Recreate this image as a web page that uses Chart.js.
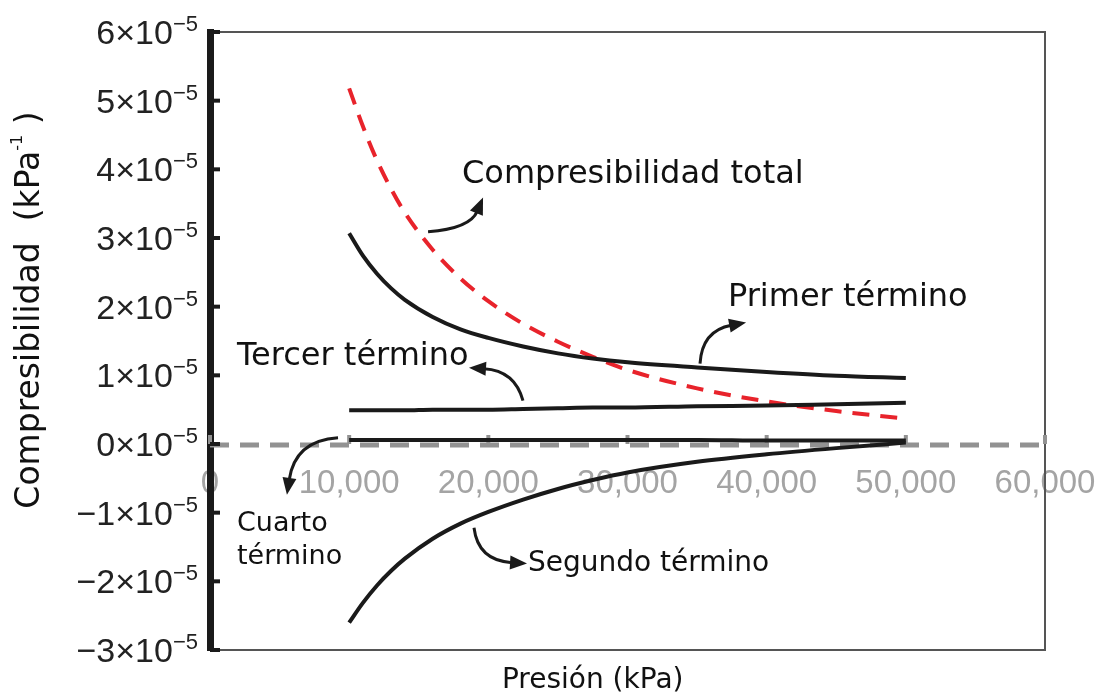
<!DOCTYPE html>
<html lang="es">
<head>
<meta charset="utf-8">
<title>Compresibilidad vs presión</title>
<script src="https://cdn.jsdelivr.net/npm/chart.js@4.4.1/dist/chart.umd.min.js"></script>
<style>
  html, body { margin: 0; padding: 0; background: #fff; }
  #wrap { width: 1104px; height: 700px; position: relative; }
</style>
</head>
<body>
<div id="wrap"><canvas id="grafico"></canvas></div>
<script>
// presiones (kPa) donde se leyeron las curvas
const presion = [10000, 11000, 12000, 13000, 14000, 16000, 18000, 20000, 22500, 25000, 27500, 30000, 35000, 40000, 45000, 50000];
// valores en unidades de 1e-5 kPa^-1
const total   = [5.18, 4.62, 4.13, 3.72, 3.37, 2.83, 2.41, 2.08, 1.75, 1.49, 1.27, 1.08, 0.81, 0.62, 0.48, 0.37];
const primer  = [3.07, 2.74, 2.48, 2.27, 2.10, 1.85, 1.67, 1.545, 1.42, 1.32, 1.245, 1.19, 1.115, 1.05, 0.995, 0.96];
const segundo = [-2.60, -2.31, -2.06, -1.85, -1.67, -1.38, -1.16, -0.99, -0.81, -0.655, -0.525, -0.415, -0.26, -0.15, -0.06, 0.02];
const tercer  = [0.49, 0.49, 0.49, 0.49, 0.49, 0.50, 0.50, 0.50, 0.51, 0.52, 0.53, 0.53, 0.55, 0.56, 0.58, 0.60];
const cuarto  = [0.06, 0.06, 0.06, 0.06, 0.06, 0.06, 0.06, 0.06, 0.06, 0.06, 0.06, 0.06, 0.06, 0.05, 0.05, 0.05];

const xMin = 0, xMax = 60000, xPaso = 10000;
const yMin = -3, yMax = 6, yPaso = 1;

// textos de las curvas (anclados en coordenadas de datos)
const etiquetas = [
  { lineas: ['Compresibilidad total'], x: 18110, y: 3.92, size: 32 },
  { lineas: ['Primer término'], x: 37220, y: 2.13, size: 32 },
  { lineas: ['Tercer término'], x: 1940, y: 1.27, size: 32 },
  { lineas: ['Cuarto', 'término'], x: 1940, y: -1.16, size: 27 },
  { lineas: ['Segundo término'], x: 22850, y: -1.74, size: 28 }
];
// flechas curvas: desde, control, hasta
const flechas = [
  [[15670, 3.09], [18680, 3.14], [19620, 3.59]],
  [[35210, 1.17], [35350, 1.65], [38520, 1.77]],
  [[22490, 0.63], [21920, 1.07], [18610, 1.11]],
  [[9200, 0.09], [6110, 0.05], [5530, -0.74]],
  [[18970, -1.22], [19260, -1.70], [22780, -1.74]]
];

function serie(vals) {
  return presion.map((p, i) => ({ x: p, y: vals[i] }));
}

const negro = '#1a1a1a';

const decorado = {
  id: 'decorado',
  beforeDatasetsDraw(chart) {
    const { ctx, chartArea: a, scales: { x, y } } = chart;
    ctx.save();
    // marco fino
    ctx.strokeStyle = '#555';
    ctx.lineWidth = 2;
    ctx.beginPath();
    ctx.moveTo(a.left, a.top);
    ctx.lineTo(a.right, a.top);
    ctx.lineTo(a.right, a.bottom);
    ctx.lineTo(a.left, a.bottom);
    ctx.stroke();
    // linea de cero discontinua y sus marquitas
    const y0 = y.getPixelForValue(0);
    ctx.strokeStyle = '#929292';
    ctx.lineWidth = 5;
    ctx.setLineDash([19, 11]);
    ctx.beginPath();
    ctx.moveTo(a.left, y0 + 1);
    ctx.lineTo(a.right, y0 + 1);
    ctx.stroke();
    ctx.setLineDash([]);
    ctx.lineWidth = 4;
    x.ticks.forEach(t => {
      const px = x.getPixelForValue(t.value);
      ctx.beginPath();
      ctx.moveTo(px, y0);
      ctx.lineTo(px, y0 - 9);
      ctx.stroke();
    });
    ctx.restore();
  },
  afterDraw(chart) {
    const { ctx, chartArea: a, scales: { x, y } } = chart;
    ctx.save();
    // marcas y etiquetas del eje y
    ctx.fillStyle = '#222';
    ctx.strokeStyle = negro;
    ctx.lineWidth = 4;
    const fBase = '34px "Liberation Sans", Arial, sans-serif';
    const fSup = '22px "Liberation Sans", Arial, sans-serif';
    y.ticks.forEach(t => {
      const py = y.getPixelForValue(t.value);
      ctx.beginPath();
      ctx.moveTo(a.left, py);
      ctx.lineTo(a.left + 10, py);
      ctx.stroke();
      const base = (t.value < 0 ? '\u2212' : '') + Math.abs(t.value) + '\u00d710';
      const sup = '\u22125';
      ctx.font = fSup;
      const wSup = ctx.measureText(sup).width;
      const derecha = a.left - 12;
      ctx.textAlign = 'right';
      ctx.textBaseline = 'alphabetic';
      ctx.fillText(sup, derecha, py - 1);
      ctx.font = fBase;
      ctx.fillText(base, derecha - wSup, py + 12);
    });

    // titulo del eje y (girado)
    ctx.save();
    ctx.translate(30, (a.top + a.bottom) / 2 - 31);
    ctx.rotate(-Math.PI / 2);
    ctx.textAlign = 'left';
    ctx.textBaseline = 'middle';
    ctx.fillStyle = '#111';
    const fTit = '33px "DejaVu Sans", sans-serif';
    const fTitSup = '16px "DejaVu Sans", sans-serif';
    const t1 = 'Compresibilidad  (kPa', t2 = '-1', t3 = ' )';
    ctx.font = fTit;
    const w1 = ctx.measureText(t1).width, w3 = ctx.measureText(t3).width;
    ctx.font = fTitSup;
    const w2 = ctx.measureText(t2).width;
    let cx = -(w1 + w2 + w3) / 2;
    ctx.font = fTit;
    ctx.fillText(t1, cx, 0);
    cx += w1;
    ctx.font = fTitSup;
    ctx.fillText(t2, cx, -12);
    cx += w2;
    ctx.font = fTit;
    ctx.fillText(t3, cx, 0);
    ctx.restore();

    // titulo del eje x
    ctx.font = '28px "DejaVu Sans", sans-serif';
    ctx.fillStyle = '#111';
    ctx.textAlign = 'center';
    ctx.textBaseline = 'middle';
    ctx.fillText('Presión (kPa)', x.getPixelForValue(27500), a.bottom + 31);

    // etiquetas de curvas
    ctx.textAlign = 'left';
    etiquetas.forEach(e => {
      ctx.font = e.size + 'px "DejaVu Sans", sans-serif';
      const px = x.getPixelForValue(e.x);
      const py = y.getPixelForValue(e.y);
      e.lineas.forEach((l, i) => ctx.fillText(l, px, py + i * e.size * 1.25));
    });

    // flechas
    ctx.strokeStyle = negro;
    ctx.fillStyle = negro;
    ctx.lineWidth = 3;
    flechas.forEach(f => {
      const [p0, p1, p2] = f.map(p => [x.getPixelForValue(p[0]), y.getPixelForValue(p[1])]);
      let dx = p2[0] - p1[0], dy = p2[1] - p1[1];
      const n = Math.hypot(dx, dy);
      dx /= n; dy /= n;
      const largo = 17, ancho = 7;
      const bx = p2[0] - dx * largo, by = p2[1] - dy * largo;
      ctx.beginPath();
      ctx.moveTo(p0[0], p0[1]);
      ctx.quadraticCurveTo(p1[0], p1[1], bx + dx * 2, by + dy * 2);
      ctx.stroke();
      ctx.beginPath();
      ctx.moveTo(p2[0], p2[1]);
      ctx.lineTo(bx - dy * ancho, by + dx * ancho);
      ctx.lineTo(bx + dy * ancho, by - dx * ancho);
      ctx.closePath();
      ctx.fill();
    });
    ctx.restore();
  }
};

const linea = { borderColor: negro, borderWidth: 4, pointRadius: 0, cubicInterpolationMode: 'monotone', fill: false };

const grafico = new Chart(document.getElementById('grafico').getContext('2d'), {
  type: 'line',
  data: {
    datasets: [
      Object.assign({ label: 'Cuarto término', data: serie(cuarto) }, linea),
      Object.assign({ label: 'Tercer término', data: serie(tercer) }, linea),
      Object.assign({ label: 'Segundo término', data: serie(segundo) }, linea),
      Object.assign({ label: 'Primer término', data: serie(primer) }, linea),
      Object.assign({ label: 'Compresibilidad total', data: serie(total) }, linea,
        { borderColor: '#e8232b', borderDash: [17, 11] })
    ]
  },
  options: {
    responsive: true,
    maintainAspectRatio: false,
    animation: false,
    layout: { padding: { left: 210, top: 32, right: 59, bottom: 50 } },
    plugins: { legend: { display: false }, tooltip: { enabled: false } },
    scales: {
      x: {
        type: 'linear',
        position: { y: 0 },
        min: xMin,
        max: xMax,
        grid: { display: false, drawTicks: false },
        border: { display: false },
        afterFit: s => { s.paddingLeft = 0; s.paddingRight = 0; },
        ticks: {
          stepSize: xPaso,
          autoSkip: false,
          maxRotation: 0,
          padding: 20,
          color: '#a4a4a4',
          font: { size: 33, family: '"Liberation Sans", Arial, sans-serif' },
          callback: v => v.toLocaleString('en-US')
        }
      },
      y: {
        type: 'linear',
        min: yMin,
        max: yMax,
        grid: { display: false, drawTicks: false },
        border: { display: true, color: negro, width: 7 },
        ticks: { stepSize: yPaso, display: false }
      }
    }
  },
  plugins: [decorado]
});
</script>
</body>
</html>
